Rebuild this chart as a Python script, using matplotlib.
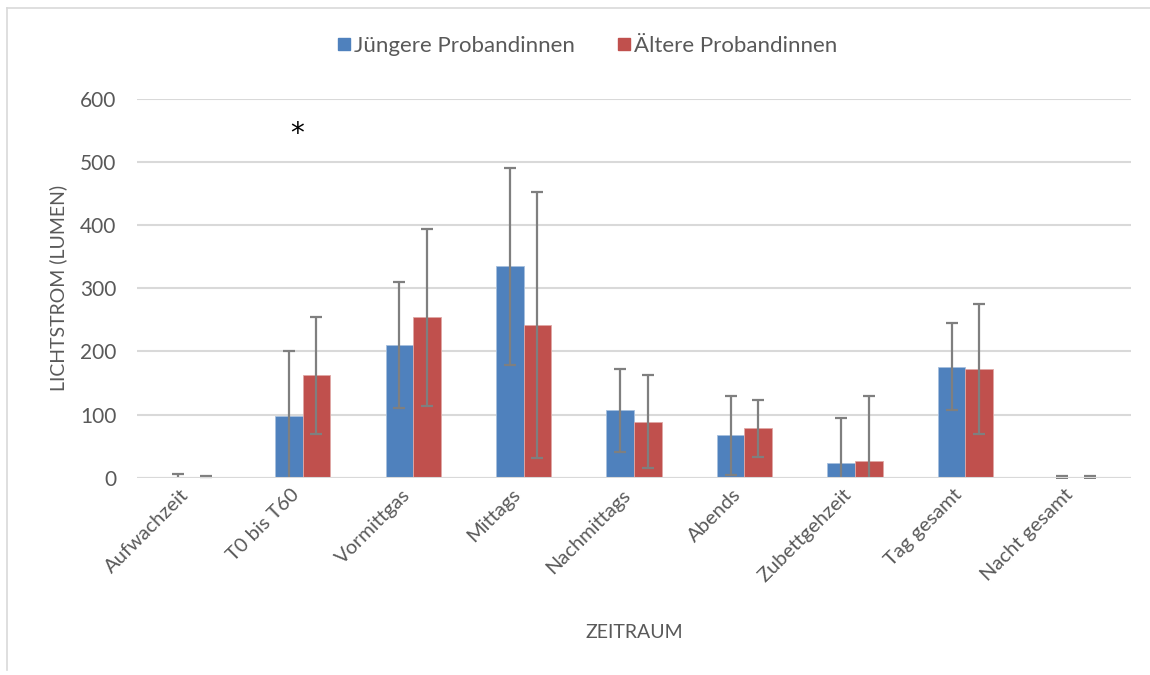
import numpy as np
import matplotlib as mpl
mpl.use('Agg')
import matplotlib.pyplot as plt
import matplotlib.transforms as mtransforms
from matplotlib.lines import Line2D

plt.rcParams['font.family'] = ['Lato', 'DejaVu Sans']

# Light flux per time window, mean and SD for both groups
categories = ['Aufwachzeit', 'T0 bis T60', 'Vormittgas', 'Mittags', 'Nachmittags',
              'Abends', 'Zubettgehzeit', 'Tag gesamt', 'Nacht gesamt']
young_mean = [0.5, 97, 210, 335, 107, 67, 24, 176, 0.5]
young_sd = [6, 104, 100, 156, 66, 62, 70, 69, 1.5]
old_mean = [1.5, 162, 254, 242, 89, 78, 26, 172, 0.5]
old_sd = [1, 93, 140, 210, 74, 45, 103, 103, 1.5]
series_names = ['Jüngere Probandinnen', 'Ältere Probandinnen']

blue = '#4f81bd'
red = '#c0504d'
grey_text = '#595959'

fig = plt.figure(figsize=(11.5, 6.75), dpi=100)
ax = fig.add_axes([137/1150, 1-477.7/675, (1131-137)/1150, (477.7-99)/675])

x = np.arange(len(categories))
w = 0.25
err_kw = dict(ecolor='#7f7f7f', elinewidth=1.6, capsize=4.3, capthick=1.6)
ax.bar(x - w/2, young_mean, w, yerr=young_sd, color=blue, edgecolor='#a7c0de',
       linewidth=0.6, error_kw=err_kw, zorder=3)
ax.bar(x + w/2, old_mean, w, yerr=old_sd, color=red, edgecolor='#e0a8a6',
       linewidth=0.6, error_kw=err_kw, zorder=3)

ax.set_xlim(-0.5, len(categories) - 0.5)
ax.set_ylim(0, 600)
ax.set_yticks(range(0, 601, 100))
ax.yaxis.grid(True, color='#d9d9d9', linewidth=1.5, zorder=0)
ax.set_axisbelow(True)
for s in ax.spines.values():
    s.set_visible(False)
ax.axhline(0, color='#d9d9d9', linewidth=1.5, zorder=4)
ax.tick_params(axis='y', length=0, labelsize=15, labelcolor=grey_text, pad=15)
ax.set_xticks(x)
ax.set_xticklabels(categories, rotation=45, ha='right', rotation_mode='anchor')
ax.tick_params(axis='x', length=0, labelsize=14.5, labelcolor=grey_text, pad=6)
shift = mtransforms.ScaledTranslation(-12/100, 0, fig.dpi_scale_trans)
for lbl in ax.get_xticklabels():
    lbl.set_transform(lbl.get_transform() + shift)

ax.set_ylabel('LICHTSTROM (LUMEN)', fontsize=14, color=grey_text,
              va='center', ha='center')
ax.yaxis.set_label_coords((58 - 137) / 994, 0.5)
ax.set_xlabel('ZEITRAUM', fontsize=14, color=grey_text, va='center')
ax.xaxis.set_label_coords(0.5, (477.7 - 633) / 378.7)

# significance mark above T0 bis T60
ax.text(x[1] - 0.05, 545, '*', ha='center', va='center', fontsize=20, color='black',
        family='DejaVu Sans')

handles = [Line2D([], [], marker='s', linestyle='none', markersize=8,
                  markerfacecolor=c, markeredgecolor=c) for c in (blue, red)]
fig.legend(handles, series_names, loc='center', bbox_to_anchor=(0.511, 1-46/675),
           ncol=2, frameon=False, fontsize=16, labelcolor=grey_text,
           handletextpad=0.15, columnspacing=1.9, handlelength=0.6)

# chart border
fig.add_artist(Line2D([7/1150, 7/1150], [1-8/675, 1-670/675], color='#d9d9d9', lw=1.2))
fig.add_artist(Line2D([7/1150, 1], [1-8/675, 1-8/675], color='#d9d9d9', lw=1.2))

fig.savefig('out.png', dpi=100, facecolor='white')
